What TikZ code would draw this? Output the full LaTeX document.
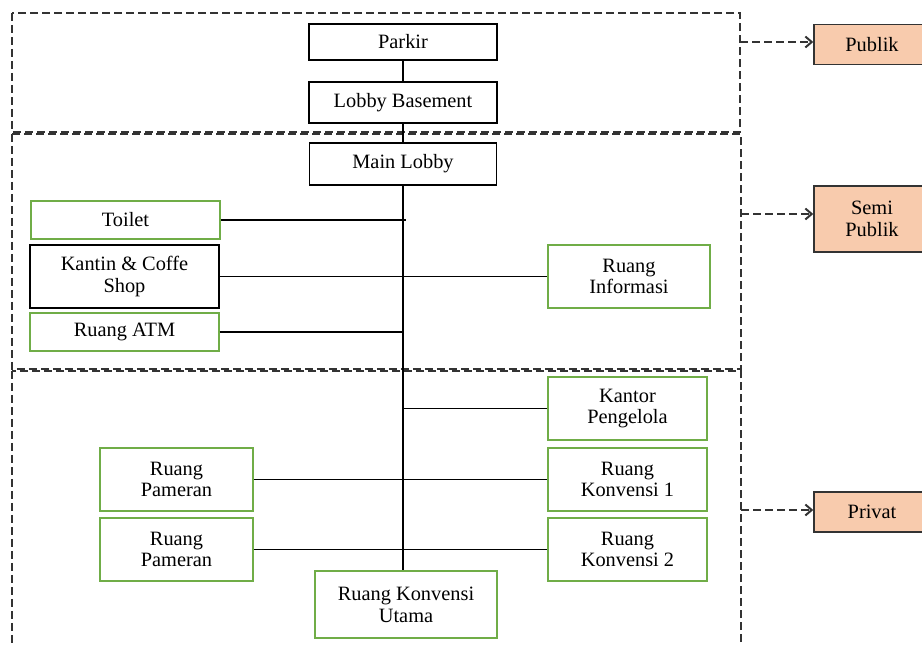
\documentclass[tikz,border=0pt]{standalone}
\usepackage{fontspec}
\setmainfont{Liberation Serif}
\usetikzlibrary{arrows.meta}
\definecolor{boxgreen}{RGB}{112,173,71}
\definecolor{peach}{RGB}{248,203,173}

\begin{document}
\begin{tikzpicture}[x=0.55pt, y=-0.55pt, font=\fontsize{11.2}{12}\selectfont,
	room/.style={draw=black, line width=0.7pt, align=center, inner sep=0pt},
	gbox/.style={room, draw=boxgreen},
	zone/.style={line width=1.1pt, draw=black!80, dash pattern=on 4.4pt off 2.2pt},
	level/.style={draw=black!80, fill=peach, line width=0.8pt, align=center, inner sep=0pt, minimum width=63.8pt}]

	\useasboundingbox (0,0) rectangle (922,646);

	% zones
	\draw[zone] (12,13) rectangle (740,132);
	\draw[zone] (12,134) rectangle (741,369);
	\draw[zone] (12,371) rectangle (741,670);
	\coordinate (zpub) at (740,42);
	\coordinate (zsemi) at (741,214);
	\coordinate (zpriv) at (741,510);

	% publik
	\node[room, minimum width=103.4pt, minimum height=19.8pt] (parkir) at (403,42) {Parkir};
	\node[room, minimum width=103.4pt, minimum height=22.6pt] (lobbyb) at (403,102.5) {Lobby Basement};

	% semi publik
	\node[room, minimum width=102.9pt, minimum height=23.1pt] (mainlobby) at (403,164) {Main Lobby};
	\node[gbox, minimum width=104pt, minimum height=20.9pt] (toilet) at (125.5,220) {Toilet};
	\node[room, minimum width=104pt, minimum height=34.7pt] (kantin) at (124.5,276.5) {Kantin \& Coffe\\Shop};
	\node[gbox, minimum width=104pt, minimum height=20.9pt] (atm) at (124.5,332) {Ruang ATM};
	\node[gbox, minimum width=89.1pt, minimum height=34.7pt] (info) at (629,276.5) {Ruang\\Informasi};

	% privat
	\node[gbox, minimum width=87.5pt, minimum height=34.7pt] (kantor) at (627.5,408.5) {Kantor\\Pengelola};
	\node[gbox, minimum width=84.2pt, minimum height=34.7pt] (pameran1) at (176.5,479.5) {Ruang\\Pameran};
	\node[gbox, minimum width=87.5pt, minimum height=34.7pt] (konv1) at (627.5,479.5) {Ruang\\Konvensi 1};
	\node[gbox, minimum width=84.2pt, minimum height=34.7pt] (pameran2) at (176.5,549.5) {Ruang\\Pameran};
	\node[gbox, minimum width=87.5pt, minimum height=34.7pt] (konv2) at (627.5,549.5) {Ruang\\Konvensi 2};
	\node[gbox, minimum width=100.1pt, minimum height=36.9pt] (utama) at (406,604.5) {Ruang Konvensi\\Utama};

	% levels
	\node[level, minimum height=22pt] (publik) at (872,44.5) {Publik};
	\node[level, minimum height=36.3pt] (semi) at (872,219) {Semi\\Publik};
	\node[level, minimum height=22pt] (privat) at (872,512) {Privat};

	% spine
	\draw[line width=0.8pt] (parkir) -- (lobbyb);
	\draw[line width=0.8pt] (lobbyb) -- (mainlobby);
	\draw[line width=0.8pt] (mainlobby.south) -- (mainlobby.south |- utama.north);

	% branches
	\draw[line width=0.8pt] (toilet.east) -- ++(185,0);
	\draw[line width=0.8pt] (kantin) -- (info);
	\draw[line width=0.8pt] (atm.east) -- (atm.east -| mainlobby.south);
	\draw[line width=0.8pt] (kantor.west) -- (kantor.west -| mainlobby.south);
	\draw[line width=0.8pt] (pameran1) -- (konv1);
	\draw[line width=0.8pt] (pameran2) -- (konv2);

	% arrows
	\draw[zone, -{Straight Barb[length=3.5pt, width=6pt, line width=1.1pt]}] (zpub) -- (zpub -| publik.west);
	\draw[zone, -{Straight Barb[length=3.5pt, width=6pt, line width=1.1pt]}] (zsemi) -- (zsemi -| semi.west);
	\draw[zone, -{Straight Barb[length=3.5pt, width=6pt, line width=1.1pt]}] (zpriv) -- (zpriv -| privat.west);

\end{tikzpicture}
\end{document}
